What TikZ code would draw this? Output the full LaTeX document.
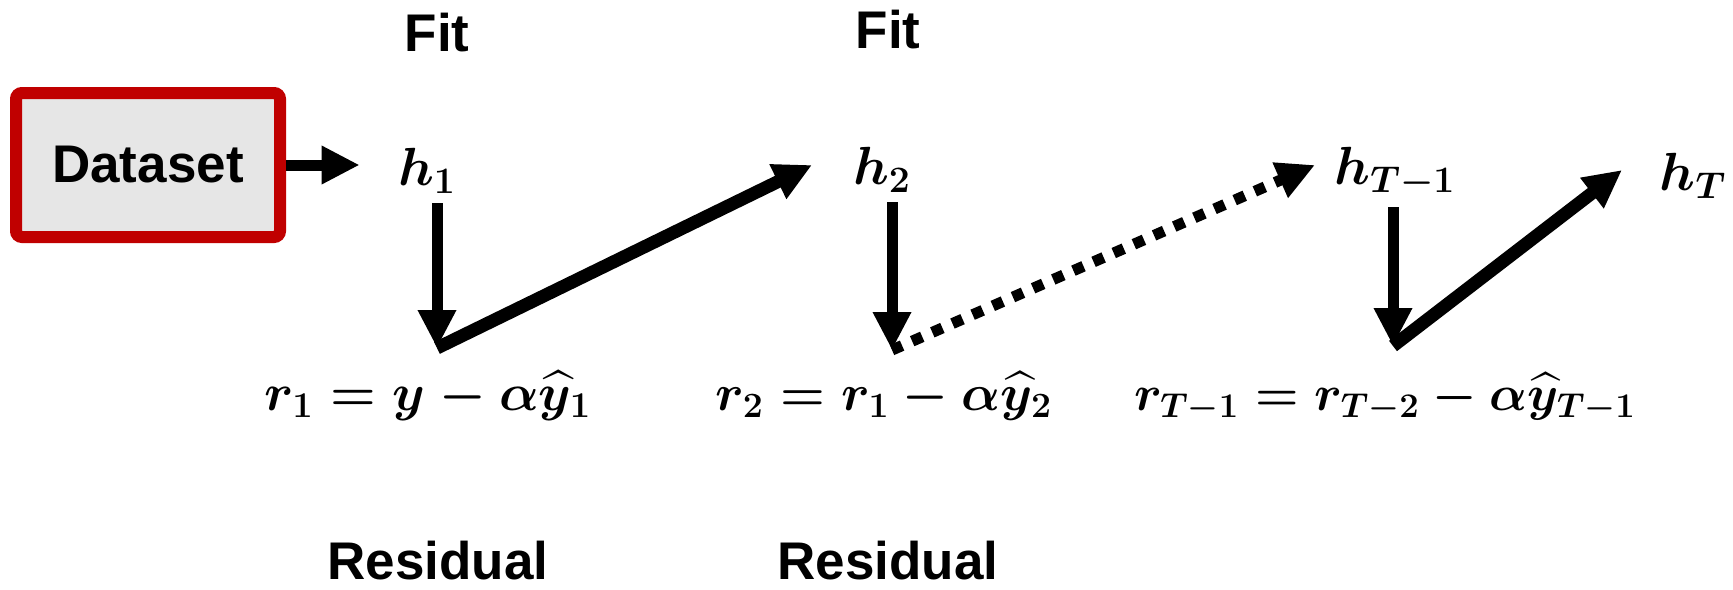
\documentclass[tikz,border=0pt]{standalone}
\usepackage{amsmath}
\usepackage{amssymb}
\usepackage{graphicx}
\usepackage[no-math]{fontspec}
\setmainfont{Liberation Sans}
\usepackage{tikz}
\usepackage{xcolor}
\usetikzlibrary{arrows.meta}
\definecolor{boxred}{HTML}{C00000}
\definecolor{boxgray}{HTML}{E6E6E6}
\newcommand{\eqtxt}[2][1.03]{\scalebox{#1}{$#2$}}

\begin{document}
\begin{tikzpicture}[x=0.5pt,y=-0.5pt,
  lbl/.style={font=\fontsize{26.5}{31}\selectfont\bfseries,inner sep=0pt},
  hnode/.style={font=\fontsize{26}{31}\selectfont\boldmath,inner sep=5pt},
  eq/.style={font=\fontsize{26}{31}\selectfont\boldmath,inner sep=0pt},
  fat/.style={line width=5.5pt,-{Triangle[length=19pt,width=18pt]}},
  fatter/.style={fat,line width=6.5pt},
  dots/.style={fat,dash pattern=on 5.5pt off 5.5pt}]
  \useasboundingbox (0,0) rectangle (1733,589);
  \node[draw=boxred,fill=boxgray,line width=6pt,rounded corners=3pt,minimum width=132pt,minimum height=72pt,inner sep=0pt,lbl] (data) at (148,165) {Dataset};
  \node[lbl] (fitA) at (437,33) {Fit};
  \node[lbl] (fitB) at (888,30) {Fit};
  \node[lbl] (resA) at (438,561) {Residual};
  \node[lbl] (resB) at (888,561) {Residual};
  \node[hnode,anchor=base] (h1) at (427,185) {\eqtxt[1.08]{h_1}};
  \node[hnode,anchor=base] (h2) at (882,184) {\eqtxt[1.08]{h_2}};
  \node[hnode,anchor=base] (h3) at (1395,184) {\eqtxt[1.08]{h_{T-1}}};
  \node[hnode,anchor=base] (h4) at (1693,190) {\eqtxt[1.08]{h_T}};
  \node[eq,anchor=base] (r1) at (428,410) {\eqtxt[1.05]{r_1 = y - \alpha\widehat{y}_1}};
  \node[eq,anchor=base] (r2) at (884,410) {\eqtxt{r_2 = r_1 - \alpha\widehat{y}_2}};
  \node[eq,anchor=base] (r3) at (1385,410) {\eqtxt[1.0]{r_{T-1} = r_{T-2} - \alpha\widehat{y}_{T-1}}};
  \coordinate (t1) at (437,348);
  \coordinate (t2) at (892,350);
  \coordinate (t3) at (1393,346);
  \coordinate (e2) at (812,165);
  \coordinate (e3) at (1315,165);
  \coordinate (e4) at (1622,170);
  \draw[fat,shorten >=14pt] (data.east) -- (data.east -| h1.west);
  \draw[fat] (h1.south -| t1) -- (t1);
  \draw[fat] (h2.south -| t2) -- (t2);
  \draw[fat] (h3.south -| t3) -- (t3);
  \draw[fatter] (t1) -- (e2);
  \draw[dots] (t2) -- (e3);
  \draw[fatter] (t3) -- (e4);
\end{tikzpicture}
\end{document}
